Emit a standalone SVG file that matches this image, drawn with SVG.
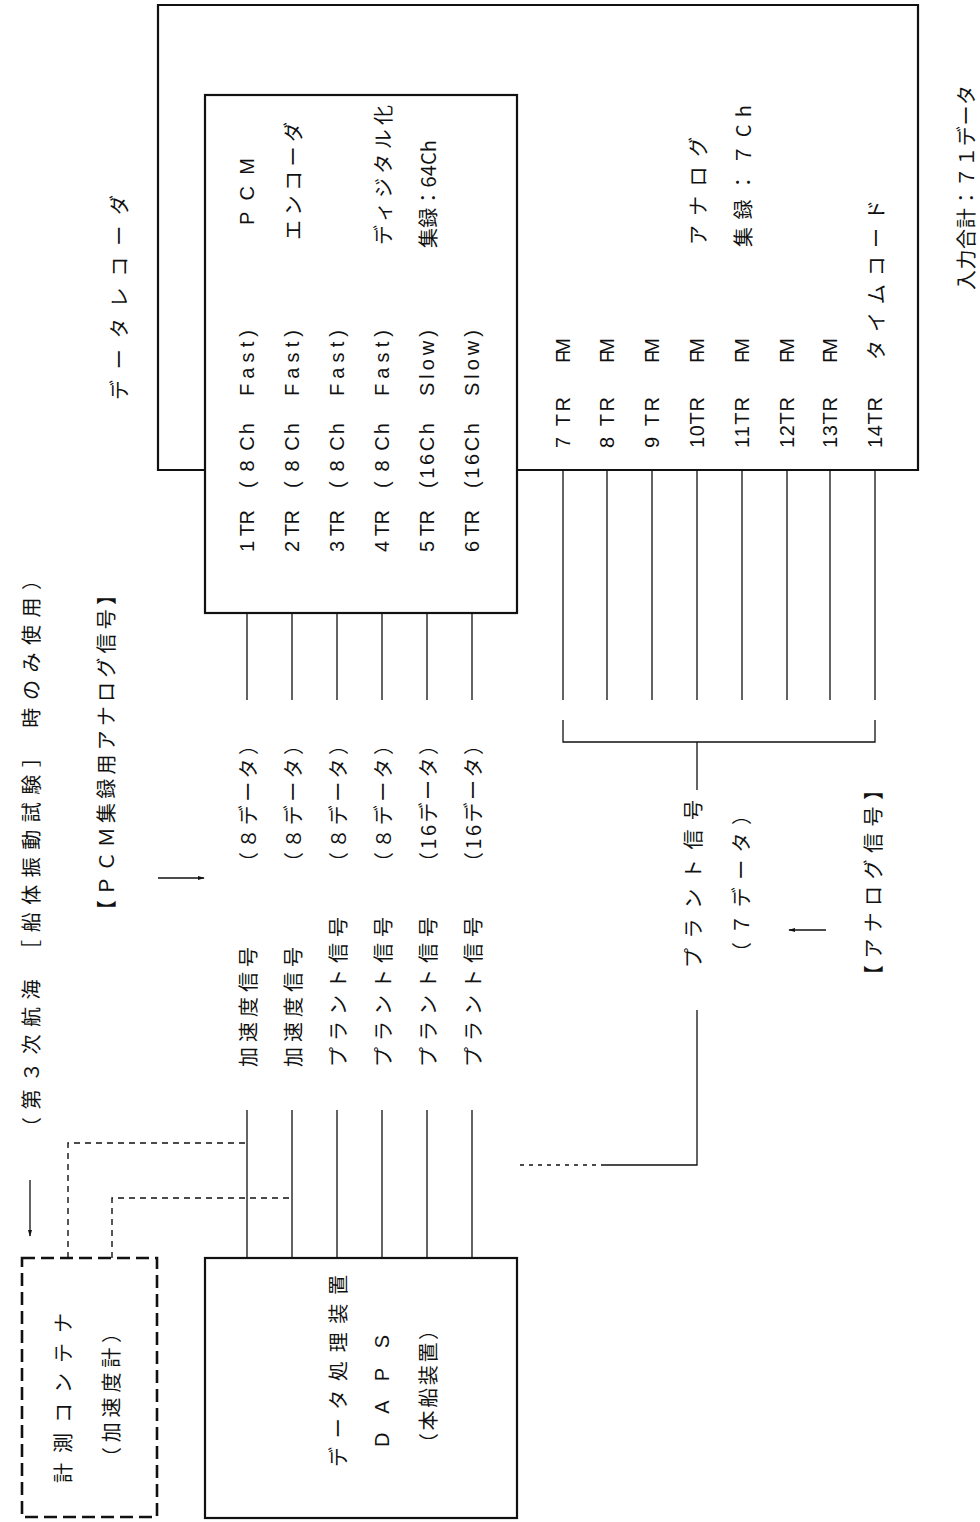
<svg xmlns="http://www.w3.org/2000/svg" width="980" height="1522" viewBox="0 0 980 1522">
<style>
.t{font-family:"Liberation Sans","Noto Sans CJK JP",sans-serif;font-size:20px;fill:#111;dominant-baseline:central}
.j{font-family:"Noto Sans CJK JP","Liberation Sans",sans-serif;font-size:20px;fill:#111;dominant-baseline:central}
.box{fill:none;stroke:#111;stroke-width:2.2}
.ln{fill:none;stroke:#111;stroke-width:1.3}
.dash{fill:none;stroke:#111;stroke-width:1.4;stroke-dasharray:6 5}
.dot{fill:none;stroke:#111;stroke-width:1.4;stroke-dasharray:4 5}
.dbox{fill:none;stroke:#111;stroke-width:2.6;stroke-dasharray:13 6}
</style>
<defs>
<marker id="ah" viewBox="0 0 10 10" refX="9" refY="5" markerWidth="7" markerHeight="7" orient="auto" markerUnits="userSpaceOnUse">
<path d="M0,2 L10,5 L0,8 Z" fill="#111"/>
</marker>
</defs>

<g id="recorder">
<path class="box" d="M205,470 H158 V5 H918 V470 H517"/>
<text class="j" transform="translate(118,400) rotate(-90)" textLength="205" lengthAdjust="spacing">データレコーダ</text>
<text class="j" transform="translate(965,290) rotate(-90)" textLength="205" lengthAdjust="spacing">入力合計：７１データ</text>
</g>

<g id="pcm">
<rect class="box" x="205" y="95" width="312" height="518"/>
<text class="t" transform="translate(247,552) rotate(-90)" textLength="42" lengthAdjust="spacing">1 TR</text>
<text class="t" transform="translate(247,488) rotate(-90)" textLength="65" lengthAdjust="spacing">( 8 Ch</text>
<text class="t" transform="translate(247,396) rotate(-90)" textLength="66" lengthAdjust="spacing">Fast)</text>
<text class="t" transform="translate(292,552) rotate(-90)" textLength="42" lengthAdjust="spacing">2 TR</text>
<text class="t" transform="translate(292,488) rotate(-90)" textLength="65" lengthAdjust="spacing">( 8 Ch</text>
<text class="t" transform="translate(292,396) rotate(-90)" textLength="66" lengthAdjust="spacing">Fast)</text>
<text class="t" transform="translate(337,552) rotate(-90)" textLength="42" lengthAdjust="spacing">3 TR</text>
<text class="t" transform="translate(337,488) rotate(-90)" textLength="65" lengthAdjust="spacing">( 8 Ch</text>
<text class="t" transform="translate(337,396) rotate(-90)" textLength="66" lengthAdjust="spacing">Fast)</text>
<text class="t" transform="translate(382,552) rotate(-90)" textLength="42" lengthAdjust="spacing">4 TR</text>
<text class="t" transform="translate(382,488) rotate(-90)" textLength="65" lengthAdjust="spacing">( 8 Ch</text>
<text class="t" transform="translate(382,396) rotate(-90)" textLength="66" lengthAdjust="spacing">Fast)</text>
<text class="t" transform="translate(427,552) rotate(-90)" textLength="42" lengthAdjust="spacing">5 TR</text>
<text class="t" transform="translate(427,488) rotate(-90)" textLength="65" lengthAdjust="spacing">(16Ch</text>
<text class="t" transform="translate(427,396) rotate(-90)" textLength="66" lengthAdjust="spacing">Slow)</text>
<text class="t" transform="translate(472,552) rotate(-90)" textLength="42" lengthAdjust="spacing">6 TR</text>
<text class="t" transform="translate(472,488) rotate(-90)" textLength="65" lengthAdjust="spacing">(16Ch</text>
<text class="t" transform="translate(472,396) rotate(-90)" textLength="66" lengthAdjust="spacing">Slow)</text>
<text class="t" transform="translate(247,225) rotate(-90)" textLength="67" lengthAdjust="spacing">P C M</text>
<text class="j" transform="translate(292,240) rotate(-90)" textLength="118" lengthAdjust="spacing">エンコーダ</text>
<text class="j" transform="translate(382,245) rotate(-90)" textLength="140" lengthAdjust="spacing">ディジタル化</text>
<text class="j" transform="translate(427,248) rotate(-90)" textLength="108" lengthAdjust="spacing">集録：64Ch</text>
</g>

<g id="fm">
<text class="t" transform="translate(563,448) rotate(-90)" textLength="51" lengthAdjust="spacing">7 TR</text>
<text class="t" transform="translate(563,363) rotate(-90)" textLength="25" lengthAdjust="spacing">FM</text>
<text class="t" transform="translate(607,448) rotate(-90)" textLength="51" lengthAdjust="spacing">8 TR</text>
<text class="t" transform="translate(607,363) rotate(-90)" textLength="25" lengthAdjust="spacing">FM</text>
<text class="t" transform="translate(652,448) rotate(-90)" textLength="51" lengthAdjust="spacing">9 TR</text>
<text class="t" transform="translate(652,363) rotate(-90)" textLength="25" lengthAdjust="spacing">FM</text>
<text class="t" transform="translate(697,448) rotate(-90)" textLength="51" lengthAdjust="spacing">10TR</text>
<text class="t" transform="translate(697,363) rotate(-90)" textLength="25" lengthAdjust="spacing">FM</text>
<text class="t" transform="translate(742,448) rotate(-90)" textLength="51" lengthAdjust="spacing">11TR</text>
<text class="t" transform="translate(742,363) rotate(-90)" textLength="25" lengthAdjust="spacing">FM</text>
<text class="t" transform="translate(787,448) rotate(-90)" textLength="51" lengthAdjust="spacing">12TR</text>
<text class="t" transform="translate(787,363) rotate(-90)" textLength="25" lengthAdjust="spacing">FM</text>
<text class="t" transform="translate(830,448) rotate(-90)" textLength="51" lengthAdjust="spacing">13TR</text>
<text class="t" transform="translate(830,363) rotate(-90)" textLength="25" lengthAdjust="spacing">FM</text>
<text class="t" transform="translate(875,448) rotate(-90)" textLength="51" lengthAdjust="spacing">14TR</text>
<text class="j" transform="translate(875,360) rotate(-90)" textLength="160" lengthAdjust="spacing">タイムコード</text>
<text class="j" transform="translate(697,245) rotate(-90)" textLength="108" lengthAdjust="spacing">アナログ</text>
<text class="j" transform="translate(742,247) rotate(-90)" textLength="142" lengthAdjust="spacing">集録：７Ch</text>
</g>

<g id="daps">
<rect class="box" x="205" y="1258" width="312" height="260"/>
<text class="j" transform="translate(337,1467) rotate(-90)" textLength="192" lengthAdjust="spacing">データ処理装置</text>
<text class="t" transform="translate(382,1447) rotate(-90)" textLength="112" lengthAdjust="spacing">D A P S</text>
<text class="j" transform="translate(427,1453) rotate(-90)" textLength="133" lengthAdjust="spacing">（本船装置）</text>
</g>

<g id="container">
<rect class="dbox" x="22" y="1258" width="135" height="259"/>
<text class="j" transform="translate(62,1483) rotate(-90)" textLength="170" lengthAdjust="spacing">計測コンテナ</text>
<text class="j" transform="translate(110,1467) rotate(-90)" textLength="144" lengthAdjust="spacing">（加速度計）</text>
</g>

<g id="labels">
<text class="j" transform="translate(30,1137) rotate(-90)" textLength="567" lengthAdjust="spacing">（第３次航海 ［船体振動試験］ 時のみ使用）</text>
<text class="j" transform="translate(105,920) rotate(-90)" textLength="335" lengthAdjust="spacing">【ＰＣＭ集録用アナログ信号】</text>
<text class="j" transform="translate(247,1067) rotate(-90)" textLength="120" lengthAdjust="spacing">加速度信号</text>
<text class="j" transform="translate(292,1067) rotate(-90)" textLength="120" lengthAdjust="spacing">加速度信号</text>
<text class="j" transform="translate(337,1067) rotate(-90)" textLength="150" lengthAdjust="spacing">プラント信号</text>
<text class="j" transform="translate(382,1067) rotate(-90)" textLength="150" lengthAdjust="spacing">プラント信号</text>
<text class="j" transform="translate(427,1067) rotate(-90)" textLength="150" lengthAdjust="spacing">プラント信号</text>
<text class="j" transform="translate(472,1067) rotate(-90)" textLength="150" lengthAdjust="spacing">プラント信号</text>
<text class="j" transform="translate(247,872) rotate(-90)" textLength="137" lengthAdjust="spacing">（８データ）</text>
<text class="j" transform="translate(292,872) rotate(-90)" textLength="137" lengthAdjust="spacing">（８データ）</text>
<text class="j" transform="translate(337,872) rotate(-90)" textLength="137" lengthAdjust="spacing">（８データ）</text>
<text class="j" transform="translate(382,872) rotate(-90)" textLength="137" lengthAdjust="spacing">（８データ）</text>
<text class="j" transform="translate(427,872) rotate(-90)" textLength="137" lengthAdjust="spacing">（16データ）</text>
<text class="j" transform="translate(472,872) rotate(-90)" textLength="137" lengthAdjust="spacing">（16データ）</text>
<text class="j" transform="translate(692,968) rotate(-90)" textLength="168" lengthAdjust="spacing">プラント信号</text>
<text class="j" transform="translate(740,962) rotate(-90)" textLength="157" lengthAdjust="spacing">（７データ）</text>
<text class="j" transform="translate(872,985) rotate(-90)" textLength="205" lengthAdjust="spacing">【アナログ信号】</text>
</g>

<g id="connectors">
<path class="ln" d="M247,613 V700 M292,613 V700 M337,613 V700 M382,613 V700 M427,613 V700 M472,613 V700"/>
<path class="ln" d="M247,1110 V1258 M292,1110 V1258 M337,1110 V1258 M382,1110 V1258 M427,1110 V1258 M472,1110 V1258"/>
<path class="ln" d="M563,470 V700 M607,470 V700 M652,470 V700 M697,470 V700 M742,470 V700 M787,470 V700 M830,470 V700 M875,470 V700"/>
<path class="ln" d="M563,720 V742 H875 V720 M697,742 V790"/>
<path class="ln" d="M697,1010 V1165 H605"/>
<path class="dot" d="M605,1165 H515"/>
<path class="dash" d="M68,1258 V1143 H247"/>
<path class="dash" d="M112,1258 V1198 H292"/>
<path class="ln" d="M30,1180 V1236" marker-end="url(#ah)"/>
<path class="ln" d="M158,878 H204" marker-end="url(#ah)"/>
<path class="ln" d="M826,930 H789" marker-end="url(#ah)"/>
</g>
</svg>
